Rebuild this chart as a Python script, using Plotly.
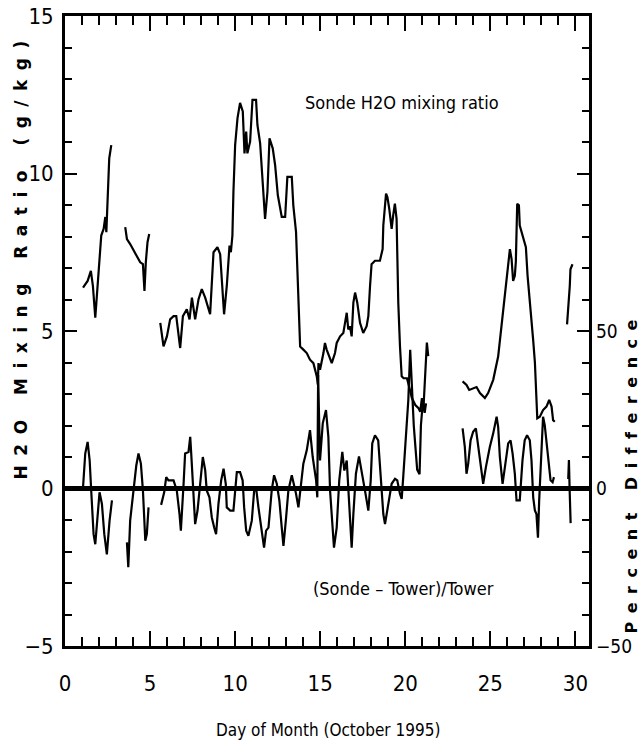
import plotly.graph_objects as go

# Sonde H2O mixing ratio (g/kg) by day of October 1995; None separates sonde records
day_sonde = [
    1.06, 1.33, 1.52, 1.64, 1.78, 1.92, 2.01, 2.13, 2.27, 2.37, 2.43, 2.50, 2.60, 2.72, None,
    3.54, 3.64, 3.83, 4.03, 4.23, 4.42, 4.58, 4.67, 4.75, 4.85, 4.95, None,
    5.60, 5.79, 5.99, 6.18, 6.38, 6.54, 6.77, 6.93, 7.16, 7.32, 7.46, 7.65, 7.85, 8.04,
    8.24, 8.53, 8.73, 8.96, 9.12, 9.35, 9.51, 9.67, 9.75, 9.84, 9.90, 10.00, 10.14, 10.29,
    10.45, 10.55, 10.65, 10.72, 10.88, 11.02, 11.23, 11.31, 11.47, 11.63, 11.76, 11.90,
    12.02, 12.21, 12.35, 12.51, 12.74, 12.94, 13.07, 13.33, 13.42, 13.58, 13.72, 13.82,
    14.01, 14.21, 14.40, 14.60, 14.80, 14.86, 14.90, 14.99, 15.19, 15.28, 15.38, 15.58,
    15.68, 15.87, 15.97, 16.17, 16.36, 16.46, 16.56, 16.65, 16.75, 16.85, 16.95, 17.05,
    17.18, 17.34, 17.53, 17.73, 17.83, 17.93, 18.02, 18.22, 18.51, 18.67, 18.71, 18.87,
    18.95, 19.06, 19.20, 19.29, 19.39, 19.49, 19.53, 19.59, 19.69, 19.79, 19.90, 20.10,
    20.25, 20.39, 20.59, 20.78, 20.88, 20.98, 21.08, 21.18, 21.27, 21.35, None,
    23.37, 23.60, 23.76, 23.99, 24.19, 24.39, 24.68, 24.87, 25.17, 25.46, 25.66, 25.85,
    25.95, 26.05, 26.15, 26.25, 26.34, 26.44, 26.50, 26.58, 26.68, 26.73, 26.89, 27.09,
    27.19, 27.32, 27.42, 27.52, 27.62, 27.70, 27.76, 27.91, 28.10, 28.30, 28.46, 28.60,
    28.69, 28.79, None,
    29.51, 29.57, 29.67, 29.71, 29.83,
]
h2o_sonde = [
    6.38, 6.59, 6.91, 6.43, 5.42, 6.54, 7.39, 8.03, 8.24, 8.62, 8.14, 9.20, 10.48, 10.90, None,
    8.30, 7.92, 7.76, 7.55, 7.34, 7.18, 7.12, 6.27, 7.18, 7.82, 8.08, None,
    5.26, 4.51, 4.83, 5.37, 5.47, 5.47, 4.46, 5.47, 5.69, 5.37, 6.06, 5.37, 6.01, 6.33,
    6.06, 5.53, 7.50, 7.66, 7.44, 5.53, 6.43, 7.71, 7.50, 8.03, 9.42, 10.90, 11.76, 12.24,
    11.97, 10.64, 11.33, 10.64, 11.01, 12.34, 12.34, 11.54, 10.96, 9.63, 8.56, 9.42,
    11.12, 10.80, 10.27, 9.31, 8.62, 8.62, 9.89, 9.89, 8.99, 8.14, 6.01, 4.51,
    4.41, 4.30, 4.09, 3.98, 3.56, 3.30, 3.98, 3.77, 4.30, 4.62, 4.41, 4.09,
    3.98, 4.30, 4.62, 4.83, 4.94, 5.26, 5.58, 5.05, 5.15, 4.83, 5.90, 6.22,
    5.90, 5.26, 4.94, 5.15, 5.47, 6.43, 7.12, 7.23, 7.23, 7.60, 8.35, 9.36,
    9.25, 8.88, 8.24, 8.67, 9.04, 8.56, 7.39, 5.90, 4.51, 3.56, 3.50, 3.50,
    3.18, 2.87, 2.65, 2.55, 2.44, 2.87, 2.65, 3.93, 4.63, 4.20, None,
    3.40, 3.29, 3.13, 3.19, 3.22, 3.03, 2.87, 3.03, 3.45, 4.19, 5.15, 6.01,
    6.54, 7.18, 7.60, 7.28, 6.59, 6.75, 7.20, 9.04, 8.99, 8.35, 8.03, 7.66,
    6.75, 6.01, 5.37, 4.70, 4.00, 3.00, 2.23, 2.28, 2.49, 2.60, 2.81, 2.60,
    2.17, 2.12, None,
    5.21, 5.58, 6.43, 6.96, 7.12,
]

# (Sonde - Tower)/Tower in percent
day_diff = [
    1.06, 1.19, 1.33, 1.45, 1.53, 1.68, 1.78, 1.92, 2.03, 2.17, 2.31, 2.46, 2.62, 2.76, None,
    3.64, 3.72, 3.83, 3.93, 4.07, 4.19, 4.32, 4.46, 4.58, 4.72, 4.81, 4.91, None,
    5.65, 5.83, 5.95, 6.08, 6.38, 6.57, 6.73, 6.81, 6.97, 7.06, 7.26, 7.36, 7.42, 7.51,
    7.65, 7.79, 7.94, 8.10, 8.24, 8.33, 8.49, 8.63, 8.77, 8.88, 9.02, 9.18, 9.32, 9.45,
    9.51, 9.71, 9.90, 10.00, 10.10, 10.29, 10.44, 10.53, 10.65, 10.78, 10.98, 11.12,
    11.25, 11.37, 11.57, 11.70, 11.82, 11.96, 12.15, 12.29, 12.45, 12.60, 12.74, 12.84,
    12.98, 13.13, 13.33, 13.46, 13.58, 13.72, 13.82, 14.01, 14.21, 14.40, 14.56, 14.76,
    14.83, 14.88, 14.99, 15.15, 15.34, 15.48, 15.58, 15.74, 15.81, 15.97, 16.12, 16.30,
    16.42, 16.56, 16.65, 16.75, 16.85, 16.95, 17.10, 17.28, 17.44, 17.63, 17.83, 17.97,
    18.06, 18.22, 18.41, 18.55, 18.71, 18.81, 19.00, 19.20, 19.40, 19.53, 19.69, 19.79,
    19.88, 20.04, 20.18, 20.29, 20.40, 20.50, 20.60, 20.70, 20.84, 20.92, 21.04, 21.14,
    21.22, None,
    23.37, 23.50, 23.60, 23.70, 23.84, 23.99, 24.15, 24.29, 24.45, 24.58, 24.74, 24.97,
    25.17, 25.37, 25.46, 25.56, 25.72, 25.85, 26.05, 26.19, 26.31, 26.44, 26.54, 26.73,
    26.89, 27.02, 27.16, 27.32, 27.42, 27.52, 27.62, 27.71, 27.80, 27.87, 28.00, 28.10,
    28.20, 28.40, 28.54, 28.66, 28.74, None,
    29.58, 29.62, 29.66, 29.72,
]
pct_diff = [
    0.4, 11.1, 14.8, 8.9, 0.4, -14.5, -17.7, -7.0, -1.2, -4.9, -14.5, -20.9, -10.2, -3.8, None,
    -17.1, -25.0, -10.2, -4.9, 2.6, 7.3, 11.1, 7.9, -0.6, -16.6, -14.5, -6.0, None,
    -5.2, -1.2, 3.6, 2.6, 2.6, -0.6, -8.1, -13.4, 1.5, 11.1, 11.6, 16.4, 11.0, 0.4,
    -11.3, -7.0, 1.5, 10.0, 5.8, -0.6, -2.8, -9.2, -12.4, -14.5, -4.9, 2.6, 6.3, 1.5,
    -6.0, -7.0, -7.0, 0.0, 5.2, 5.2, 2.6, -6.0, -13.4, -15.0, -10.2, -0.6,
    -0.6, -6.0, -14.5, -18.8, -13.4, -12.4, -0.6, 4.2, 1.5, -3.8, -12.4, -18.2,
    -10.2, -0.6, 4.2, 1.5, -1.7, -6.0, -0.6, 7.9, 12.1, 18.5, 10.0, 2.6,
    -2.8, 36.0, 8.9, 20.7, 24.9, 16.4, -0.6, -15.6, -18.8, -12.4, 2.6, 11.6,
    5.7, 8.9, -0.6, -10.2, -18.8, -8.1, 4.7, 10.2, 5.7, -0.6, -7.0, 2.6,
    14.3, 16.9, 15.3, 4.7, -8.1, -11.3, -4.9, 1.5, 3.1, 2.6, -1.7, -3.3,
    3.6, 17.5, 28.1, 44.0, 30.0, 20.0, 13.0, 6.0, 4.5, 20.0, 28.0, 24.0,
    27.0, None,
    19.1, 13.2, 4.7, 7.9, 15.3, 18.0, 19.1, 13.2, 5.8, 1.5, 6.8, 13.2,
    17.5, 22.8, 19.6, 10.0, 1.5, 6.8, 14.3, 15.3, 11.1, 4.7, -3.8, -3.8,
    8.9, 15.3, 16.9, 15.3, 8.9, -2.8, -7.0, -8.1, -15.6, -4.0, 10.0, 22.8,
    20.0, 8.9, 2.6, 2.0, 3.6, None,
    3.0, 9.0, 0.0, -11.0,
]

x_ticks = [0, 5, 10, 15, 20, 25, 30]
y_ticks = [-5, 0, 5, 10, 15]
pct_ticks = [-50, 0, 50]

narrow = "Liberation Sans Narrow, DejaVu Sans Condensed, Liberation Sans, sans-serif"
line_style = dict(color="black", width=2.2)

fig = go.Figure()
fig.add_trace(go.Scatter(x=day_sonde, y=h2o_sonde, mode="lines", line=line_style,
                         connectgaps=False, showlegend=False))
fig.add_trace(go.Scatter(x=day_diff, y=pct_diff, mode="lines", line=line_style,
                         connectgaps=False, showlegend=False, yaxis="y2"))

fig.update_layout(
    width=641, height=748,
    margin=dict(l=65, r=52, t=16, b=102),
    paper_bgcolor="white", plot_bgcolor="white",
    font=dict(family=narrow, color="black"),
    xaxis=dict(
        range=[0, 30.8], tickvals=x_ticks, ticks="inside", ticklen=15, tickwidth=2,
        tickcolor="black", minor=dict(dtick=1, ticks="inside", ticklen=9, tickwidth=2,
                                      tickcolor="black"),
        showline=True, linewidth=3, linecolor="black", mirror="ticks",
        showgrid=False, zeroline=False, tickfont=dict(size=22, family=narrow),
        ticklabelstandoff=16, automargin=False,
    ),
    yaxis=dict(
        range=[-5, 15], tickvals=y_ticks, ticks="inside", ticklen=12, tickwidth=2,
        tickcolor="black", minor=dict(dtick=1, ticks="inside", ticklen=7, tickwidth=2,
                                      tickcolor="black"),
        showline=True, linewidth=3, linecolor="black", mirror="ticks",
        showgrid=False, zeroline=True, zerolinewidth=4.5, zerolinecolor="black",
        tickfont=dict(size=22, family=narrow), ticklabelstandoff=4, automargin=False,
    ),
    yaxis2=dict(
        range=[-50, 150], tickvals=pct_ticks, overlaying="y", side="right",
        ticks="", showline=False, showgrid=False, zeroline=False,
        tickfont=dict(size=19, family=narrow), ticklabelstandoff=6, automargin=False,
    ),
    annotations=[
        dict(text="Sonde H2O mixing ratio", x=19.8, y=12.27, xref="x", yref="y",
             xanchor="center", yanchor="middle",
             showarrow=False, font=dict(size=18, family=narrow)),
        dict(text="(Sonde \u2013 Tower)/Tower", x=19.87, y=-3.16, xref="x", yref="y",
             xanchor="center", yanchor="middle",
             showarrow=False, font=dict(size=18, family=narrow)),
        dict(text="Day of Month (October 1995)", x=0.502, y=-0.133, xref="paper",
             yref="paper", xanchor="center", yanchor="middle",
             showarrow=False, font=dict(size=17, family=narrow)),
        dict(text='<span style="letter-spacing:9.5px">H2O Mixing Ratio (g/kg)</span>',
             x=-0.084, y=0.62, xref="paper", yref="paper", textangle=-90,
             xanchor="center", yanchor="middle",
             showarrow=False, font=dict(size=17, family="DejaVu Sans", weight="bold")),
        dict(text='<span style="letter-spacing:8.5px">Percent Difference</span>',
             x=1.081, y=0.276, xref="paper", yref="paper", textangle=-90,
             xanchor="center", yanchor="middle",
             showarrow=False, font=dict(size=16, family="DejaVu Sans", weight="bold")),
    ],
)

fig.write_html("out.html")
